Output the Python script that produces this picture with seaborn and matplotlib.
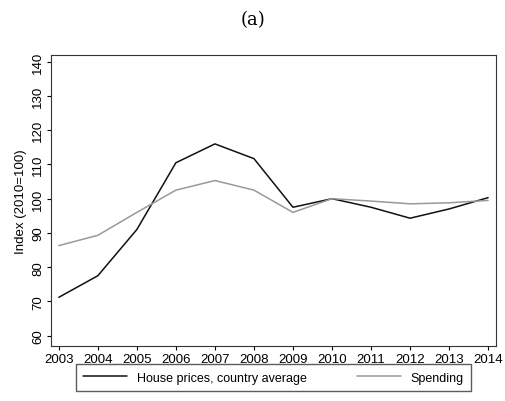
import matplotlib
matplotlib.use("Agg")
import matplotlib.pyplot as plt
import seaborn as sns
import pandas as pd

years = list(range(2003, 2015))
house = [71.2, 77.5, 91.0, 110.5, 116.0, 111.7, 97.5, 100.0, 97.5, 94.3, 97.0, 100.3]
spending = [86.3, 89.3, 96.0, 102.5, 105.3, 102.5, 96.0, 100.0, 99.3, 98.5, 98.8, 99.5]

sns.set_style("white")
plt.rcParams['font.family'] = ['Liberation Sans', 'DejaVu Sans']
plt.rcParams['text.color'] = 'black'
plt.rcParams['xtick.color'] = 'black'
plt.rcParams['ytick.color'] = 'black'
plt.rcParams['axes.labelcolor'] = 'black'
df = pd.DataFrame({"year": years * 2, "value": house + spending,
                   "series": ["House prices, country average"] * 12 + ["Spending"] * 12})

fig = plt.figure(figsize=(5.05, 4.02), dpi=100)
ax = fig.add_axes([0.101, 0.137, 0.881, 0.724])
sns.lineplot(data=df, x="year", y="value", hue="series",
             palette=["#111111", "#999999"], linewidth=1.1, ax=ax)
ax.set_ylim(57, 142)
ax.set_xlim(2002.8, 2014.2)
ax.set_yticks(range(60, 141, 10))
ax.set_xticks(years)
ax.tick_params(axis='y', labelrotation=90, labelsize=9.5, length=3, left=True, pad=2)
ax.tick_params(axis='x', labelsize=9.5, length=3, bottom=True, pad=2)
for lb in ax.get_yticklabels():
    lb.set_va('center')
ax.set_xlabel("")
ax.set_ylabel("Index (2010=100)", fontsize=9.5)
for s in ax.spines.values():
    s.set_color("#333333"); s.set_linewidth(0.8)
ax.legend(loc="upper center", bbox_to_anchor=(0.5, -0.05), ncol=2, frameon=True,
          fancybox=False, edgecolor="#333333", fontsize=9, handlelength=3.5,
          columnspacing=4.0, borderpad=0.6, borderaxespad=0.3)
fig.text(0.5, 0.95, "(a)", ha="center", va="center", fontsize=13, family="DejaVu Serif")
fig.savefig("out.png", dpi=100)
